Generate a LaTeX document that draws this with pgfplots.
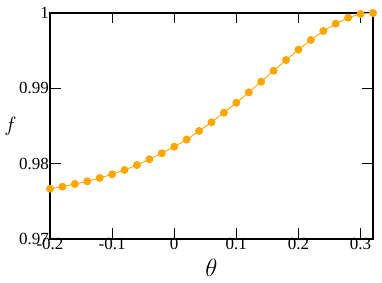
\documentclass[border=0pt]{standalone}
\usepackage{pgfplots}
\pgfplotsset{compat=1.18}
\usepackage{fontspec}
\setmainfont{Liberation Serif}
\definecolor{myorange}{HTML}{FFA500}
\begin{document}
\begin{tikzpicture}
\begin{axis}[
  name=ax,
  scale only axis,
  width=323pt, height=226pt,
  xmin=-0.2, xmax=0.32,
  ymin=0.97, ymax=1.0,
  xtick={-0.2,-0.1,0,0.1,0.2,0.3},
  xticklabels={-0.2,-0.1,0,0.1,0.2,0.3},
  ytick={0.97,0.98,0.99,1},
  yticklabels={0.97,0.98,0.99,1},
  tick align=inside,
  major tick length=10.5pt,
  axis line style={line width=1.1pt},
  every tick/.style={line width=1.1pt, black},
  tick label style={font=\fontsize{17}{17}\selectfont},
  xticklabel style={yshift=2pt, inner sep=1pt},
  yticklabel style={inner sep=1pt},
  xlabel={\fontsize{25}{25}\selectfont$\theta$},
  ylabel={\fontsize{22}{22}\selectfont$f$},
  ylabel style={rotate=-90, xshift=2pt},
  xlabel style={yshift=-5pt},
  clip=false,
]
\addplot[color=myorange, line width=0.9pt, mark=*, mark size=3.5pt, mark options={fill=myorange, draw=myorange}] coordinates {
(-0.20,0.97668) (-0.18,0.97694) (-0.16,0.97730) (-0.14,0.97766) (-0.12,0.97810)
(-0.10,0.97859) (-0.08,0.97916) (-0.06,0.97982) (-0.04,0.98058) (-0.02,0.98138)
(0.00,0.98225) (0.02,0.98320) (0.04,0.98434) (0.06,0.98549) (0.08,0.98677)
(0.10,0.98809) (0.12,0.98947) (0.14,0.99088) (0.16,0.99234) (0.18,0.99376)
(0.20,0.99513) (0.22,0.99642) (0.24,0.99761) (0.26,0.99858) (0.28,0.99938)
(0.30,0.99987) (0.32,1.00000)
};
\end{axis}
\pgfresetboundingbox
\path[use as bounding box] ([shift={(-50pt,-44pt)}]ax.south west) rectangle ([shift={(9pt,13pt)}]ax.north east);
\end{tikzpicture}
\end{document}
